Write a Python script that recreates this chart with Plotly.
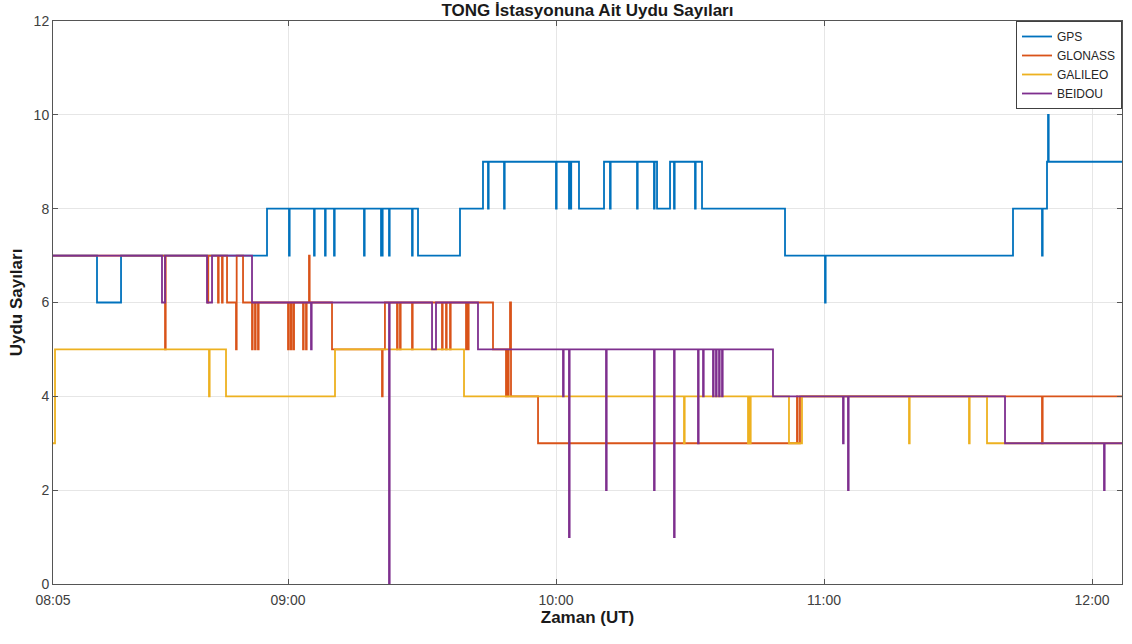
import pandas as pd
import plotly.graph_objects as go

# Times are minutes after 08:00 UT, values are satellite counts (step changes)
GPS_T = [7.39, 17.24, 22.62, 55.30,
         60.22, 60.37, 65.82, 65.97, 68.28, 68.43, 70.30, 70.45, 77.01, 77.16,
         80.82, 80.97, 81.04, 81.19, 82.61, 82.76, 87.76, 87.91,
         89.10, 98.50, 103.65,
         104.77, 104.92, 108.36, 108.51, 119.99, 120.14,
         122.90, 123.05, 123.25, 123.40, 125.14, 130.74,
         132.08, 132.23, 138.13, 138.28, 141.93, 142.08, 142.61, 145.52,
         146.41, 146.56, 151.11, 151.26, 152.68, 171.26, 180.21, 180.36,
         222.30, 228.79, 228.94, 229.91, 230.14, 230.29, 246.70]
GPS_V = [7, 6, 7, 8,
         7, 8, 7, 8, 7, 8, 7, 8, 7, 8,
         7, 8, 7, 8, 7, 8, 7, 8,
         7, 8, 9,
         8, 9, 8, 9, 8, 9,
         8, 9, 8, 9, 8, 9,
         8, 9, 8, 9, 8, 9, 8, 9,
         8, 9, 8, 9, 8, 7, 6, 7,
         8, 7, 8, 9, 10, 9, 9]

GLONASS_T = [7.39, 32.47, 32.62, 42.00, 42.15, 44.33, 44.48, 45.22, 45.37, 46.35,
             48.36, 48.51, 49.93, 51.94, 52.09, 52.61, 52.76, 53.28, 53.43,
             60.00, 60.15, 60.60, 60.75, 61.20, 61.35, 63.36, 63.51, 64.03, 64.18,
             64.70, 64.85, 69.85, 81.04, 81.19, 81.70,
             84.40, 84.55, 85.07, 85.22, 87.76, 87.91, 94.47, 94.62, 95.37, 95.52,
             96.27, 96.42, 99.85, 100.00, 100.29, 100.44, 105.89,
             108.80, 108.95, 109.25, 109.40, 109.70, 109.92, 115.97,
             173.94, 174.09, 174.61, 228.79, 228.94, 246.70]
GLONASS_V = [7, 5, 7, 6, 7, 6, 7, 6, 7, 6,
             5, 7, 6, 5, 6, 5, 6, 5, 6,
             5, 6, 5, 6, 5, 6, 5, 6, 5, 6,
             7, 6, 5, 4, 5, 6,
             5, 6, 5, 6, 5, 6, 5, 6, 5, 6,
             5, 6, 5, 6, 5, 6, 5,
             4, 5, 4, 5, 6, 4, 3,
             4, 3, 4, 3, 4, 4]

GALILEO_T = [7.39, 7.84, 42.31, 42.46, 46.12, 70.52, 99.40,
             148.65, 148.80, 162.98, 163.13, 163.43, 163.58, 172.15, 175.06,
             199.02, 199.17, 212.45, 212.60, 216.48, 246.70]
GALILEO_V = [3, 5, 4, 5, 4, 5, 4,
             3, 4, 3, 4, 3, 4, 3, 4,
             3, 4, 3, 4, 3, 3]

BEIDOU_T = [7.39, 31.79, 32.47, 41.87, 42.99, 51.94, 65.15, 65.30,
            82.61, 82.76, 92.24, 93.13, 102.53,
            121.56, 121.71, 122.90, 123.05, 131.19, 131.34, 141.93, 142.08,
            146.41, 146.56, 151.78, 151.93, 152.91, 153.06,
            155.14, 155.29, 155.81, 155.96, 156.49, 156.64, 157.16, 157.31,
            168.57, 184.24, 184.39, 185.36, 185.51, 220.51, 242.67, 242.82, 246.70]
BEIDOU_V = [7, 6, 7, 6, 7, 6, 5, 6,
            0, 6, 5, 6, 5,
            4, 5, 1, 5, 2, 5, 2, 5,
            1, 5, 3, 5, 4, 5,
            4, 5, 4, 5, 4, 5, 4, 5,
            4, 3, 4, 2, 4, 3, 2, 3, 3]

SERIES = ["GPS", "GLONASS", "GALILEO", "BEIDOU"]
COLORS = ["#0072BD", "#D95319", "#EDB120", "#7E2F8E"]

TICK_MIN = [7.39, 60, 120, 180, 240]
TICK_LABELS = ["08:05", "09:00", "10:00", "11:00", "12:00"]
X_RANGE_MIN = [7.39, 246.70]

BASE = pd.Timestamp("2021-01-01 08:00:00")


def to_time(mins):
    return [BASE + pd.to_timedelta(m, unit="min") for m in mins]


data = {
    "GPS": (GPS_T, GPS_V),
    "GLONASS": (GLONASS_T, GLONASS_V),
    "GALILEO": (GALILEO_T, GALILEO_V),
    "BEIDOU": (BEIDOU_T, BEIDOU_V),
}

fig = go.Figure()
for name, color in zip(SERIES, COLORS):
    t, v = data[name]
    fig.add_trace(go.Scatter(
        x=to_time(t), y=v, mode="lines", name=name,
        line=dict(color=color, width=1.8, shape="hv"),
    ))

axis_font = dict(family="Liberation Sans, Arial, sans-serif", size=14, color="#404040")

fig.update_layout(
    width=1132, height=644,
    margin=dict(l=53, r=10, t=21, b=60),
    paper_bgcolor="white", plot_bgcolor="white",
    font=dict(family="Liberation Sans, Arial, sans-serif", color="#262626"),
    title=dict(text="<b>TONG İstasyonuna Ait Uydu Sayıları</b>",
               x=0.5, xref="paper", xanchor="center",
               y=1 - 10 / 644, yref="container", yanchor="middle",
               font=dict(size=17, color="#1a1a1a")),
    legend=dict(x=1, xanchor="right", y=1, yanchor="top",
                bgcolor="white", bordercolor="#404040", borderwidth=1,
                font=dict(size=12, color="#262626"),
                itemwidth=30, tracegroupgap=0),
    showlegend=True,
)

fig.update_xaxes(
    type="date",
    range=to_time(X_RANGE_MIN),
    tickvals=to_time(TICK_MIN), ticktext=TICK_LABELS,
    showgrid=True, gridcolor="#e6e6e6", gridwidth=1,
    showline=True, linecolor="#555555", linewidth=1, mirror="ticks",
    ticks="inside", ticklen=5, tickcolor="#555555",
    tickfont=axis_font, zeroline=False, ticklabelstandoff=3,
    title=dict(text="<b>Zaman (UT)</b>", font=dict(size=17, color="#1a1a1a"), standoff=2),
)
fig.update_yaxes(
    range=[0, 12], tickvals=[0, 2, 4, 6, 8, 10, 12],
    showgrid=True, gridcolor="#e6e6e6", gridwidth=1,
    showline=True, linecolor="#555555", linewidth=1, mirror="ticks",
    ticks="inside", ticklen=5, tickcolor="#555555",
    tickfont=axis_font, zeroline=False,
    title=dict(text="<b>Uydu Sayıları</b>", font=dict(size=17, color="#1a1a1a"), standoff=6),
)

fig.write_html("out.html")
